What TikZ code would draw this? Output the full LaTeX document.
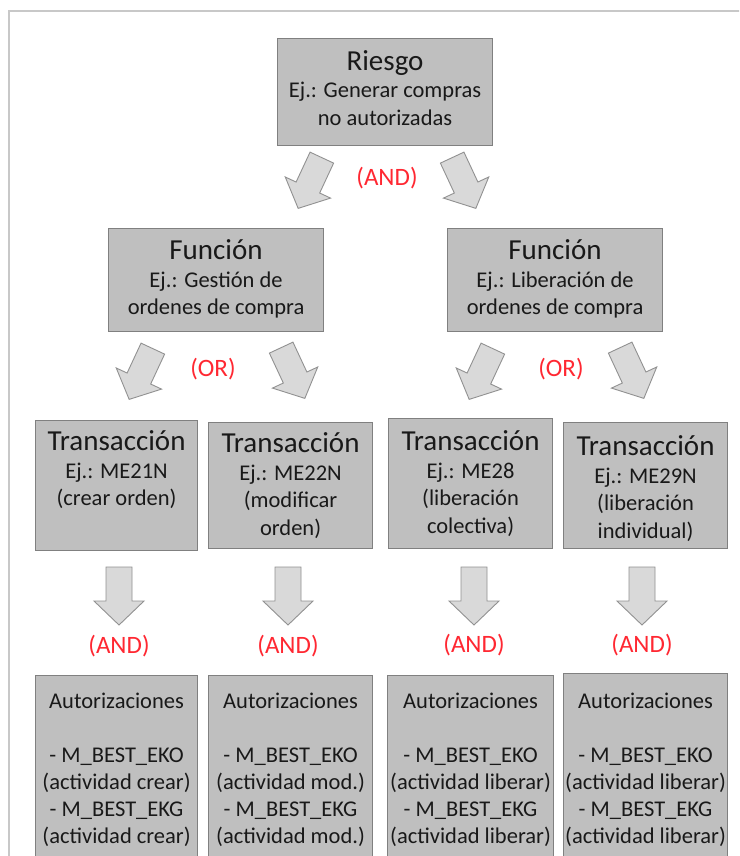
\documentclass[tikz,border=0pt]{standalone}
\usepackage{fontspec}
\setmainfont{Carlito}
\definecolor{boxfill}{RGB}{191,191,191}
\definecolor{boxdraw}{RGB}{128,128,128}
\definecolor{arrfill}{RGB}{217,217,217}
\definecolor{arrdraw}{RGB}{145,145,145}
\definecolor{txt}{RGB}{25,25,25}
\definecolor{redlbl}{RGB}{255,40,50}
\definecolor{framec}{RGB}{200,200,200}
\newcommand\titlef{\fontsize{29}{33}\selectfont}
\newcommand\bodyf{\fontsize{22.5}{27.5}\selectfont}
\newcommand\authf{\fontsize{22.5}{27}\selectfont}
% box content: width, height, first-baseline offset, lines
\newcommand\boxtxt[4]{\parbox[t][#2pt][t]{#1pt}{\centering\color{txt}\titlef\rule{0pt}{#3pt}#4}}
\begin{document}
\begin{tikzpicture}[x=1pt,y=1pt,
  box/.style={draw=boxdraw, fill=boxfill, line width=1.1pt, inner sep=0pt, anchor=north west},
  lbl/.style={text=redlbl, font=\fontsize{25}{30}\selectfont, inner sep=0pt},
  pics/barrow/.style={code={
    \draw[draw=arrdraw, fill=arrfill, line width=0.9pt, line join=miter]
      (-13,#1) -- (13,#1) -- (13,-5) -- (25,-5) -- (0,-#1) -- (-25,-5) -- (-13,-5) -- cycle;}}
]
\useasboundingbox (0,0) rectangle (739,-856);
\clip (0,0) rectangle (739,-856);
\fill[white] (0,0) rectangle (739,-856);
\draw[framec, line width=1.5pt] (9,-900) -- (9,-11) -- (760,-11);

% Riesgo
\node[box] (riesgo) at (277,-38) {\boxtxt{215}{107}{31.5}{Riesgo\par\bodyf Ej.: Generar compras\par no autorizadas\par}};

% Funciones
\node[box] (funcA) at (108,-228) {\boxtxt{215}{103}{31}{Función\par\bodyf Ej.: Gestión de\par ordenes de compra\par}};
\node[box] (funcB) at (447,-228) {\boxtxt{215}{103}{31}{Función\par\bodyf Ej.: Liberación de\par ordenes de compra\par}};

% Transacciones
\node[box] (tA) at (35,-420) {\boxtxt{162}{130}{30}{Transacción\par\bodyf Ej.: ME21N\par (crear orden)\par}};
\node[box] (tB) at (208,-422) {\boxtxt{164}{126}{30}{Transacción\par\bodyf Ej.: ME22N\par (modificar\par orden)\par}};
\node[box] (tC) at (388,-418) {\boxtxt{164}{130}{32}{Transacción\par\bodyf Ej.: ME28\par (liberación\par colectiva)\par}};
\node[box] (tD) at (563,-422) {\boxtxt{164}{126}{33}{Transacción\par\bodyf Ej.: ME29N\par (liberación\par individual)\par}};

% Autorizaciones
\node[box] (aA) at (35,-675) {\boxtxt{162}{220}{33}{\authf Autorizaciones\par\mbox{}\par - M\_BEST\_EKO\par (actividad crear)\par - M\_BEST\_EKG\par (actividad crear)\par}};
\node[box] (aB) at (208,-675) {\boxtxt{164}{220}{33}{\authf Autorizaciones\par\mbox{}\par - M\_BEST\_EKO\par (actividad mod.)\par - M\_BEST\_EKG\par (actividad mod.)\par}};
\node[box] (aC) at (387,-675) {\boxtxt{166}{220}{33}{\authf Autorizaciones\par\mbox{}\par - M\_BEST\_EKO\par (actividad liberar)\par - M\_BEST\_EKG\par (actividad liberar)\par}};
\node[box] (aD) at (563,-673) {\boxtxt{164}{220}{35}{\authf Autorizaciones\par\mbox{}\par - M\_BEST\_EKO\par (actividad liberar)\par - M\_BEST\_EKG\par (actividad liberar)\par}};

% tilted arrows
\pic[rotate=-25] at (310,-183) {barrow=28};
\pic[rotate=25]  at (464,-183) {barrow=28};
\pic[rotate=-25] at (141,-374) {barrow=28};
\pic[rotate=25]  at (293,-373) {barrow=28};
\pic[rotate=-25] at (481,-374) {barrow=28};
\pic[rotate=25]  at (632,-373) {barrow=28};
% down arrows
\pic at (119,-596) {barrow=29};
\pic at (288,-596) {barrow=29};
\pic at (474,-596) {barrow=29};
\pic at (642,-596) {barrow=29};

% labels
\node[lbl] (and0) at (387,-178) {(AND)};
\node[lbl] (orA) at (213,-369) {(OR)};
\node[lbl] (orB) at (561,-369) {(OR)};
\node[lbl] (andA) at (119,-646) {(AND)};
\node[lbl] (andB) at (288,-646) {(AND)};
\node[lbl] (andC) at (474,-645) {(AND)};
\node[lbl] (andD) at (642,-645) {(AND)};
\end{tikzpicture}
\end{document}
